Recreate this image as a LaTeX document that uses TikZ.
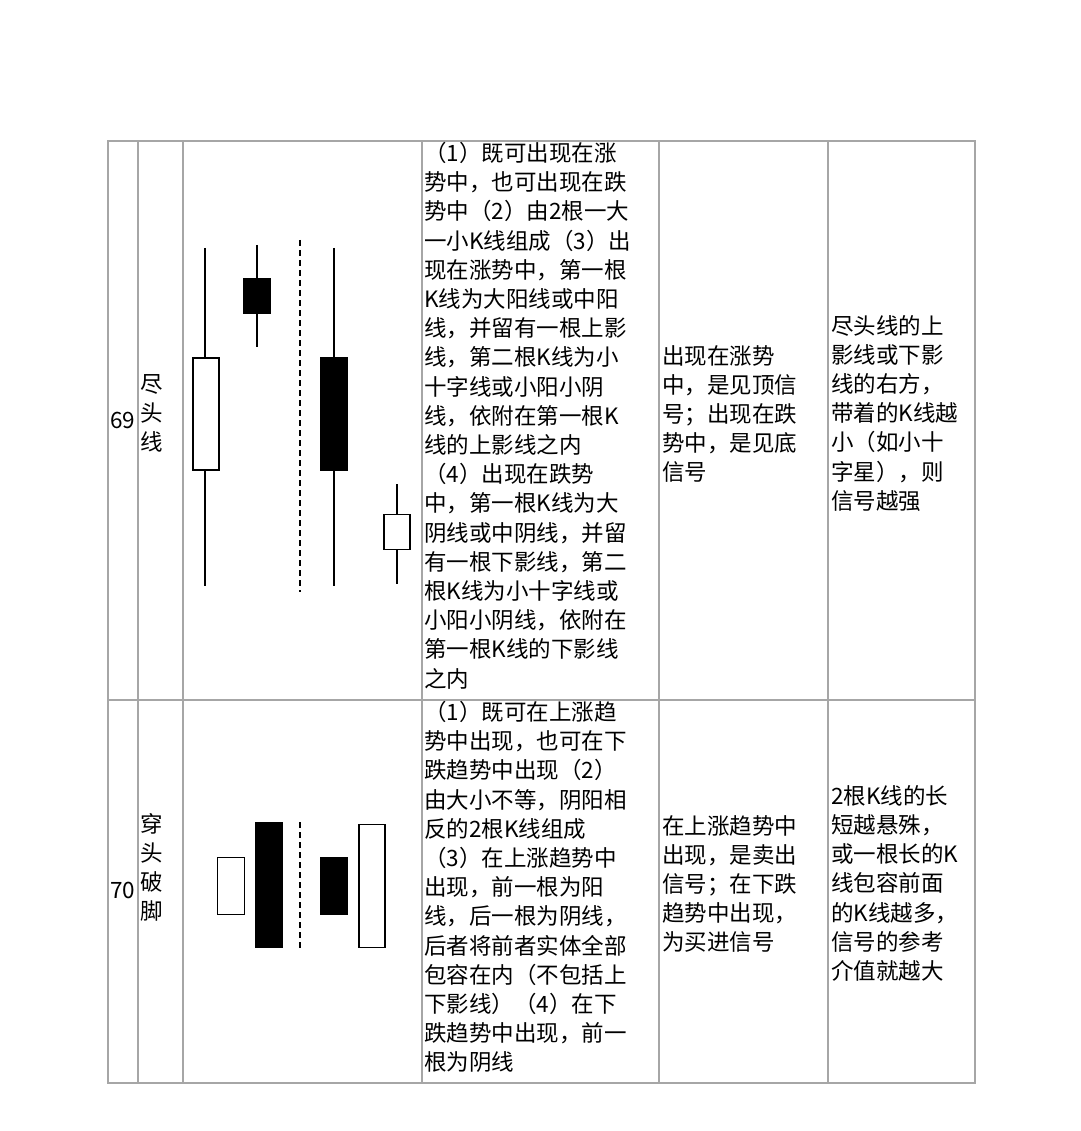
\documentclass[tikz,border=0pt]{standalone}
\usepackage{fontspec}
\setmainfont{Noto Sans CJK SC}
\begin{document}
\begin{tikzpicture}[x=1pt,y=-1pt,
  grid/.style={draw=gray!70,line width=1.6pt},
  cell/.style={anchor=north west,align=left,inner sep=0pt,font=\fontsize{22.5}{29.2}\selectfont},
  wick/.style={line width=1.6pt},
  wbody/.style={draw,line width=1.6pt,fill=white},
  bbody/.style={draw,line width=1.6pt,fill=black},
  dashln/.style={line width=1.2pt,dash pattern=on 6pt off 4pt}]
\useasboundingbox (0,0) rectangle (1080,1131);
% table
\draw[grid] (108,141) rectangle (975,1083);
\draw[grid] (108,700) -- (975,700);
\foreach \x in {138,183,422,659,828} \draw[grid] (\x,141) -- (\x,1083);
% row 69
\node[cell,anchor=west] (n69) at (110,420) {69};
\node[cell,anchor=north] (t69) at (152,374) {尽\\头\\线};
\node[cell] (d69) at (424,142) {（1）既可出现在涨\\势中，也可出现在跌\\势中（2）由2根一大\\一小K线组成（3）出\\现在涨势中，第一根\\K线为大阳线或中阳\\线，并留有一根上影\\线，第二根K线为小\\十字线或小阳小阴\\线，依附在第一根K\\线的上影线之内\\（4）出现在跌势\\中，第一根K线为大\\阴线或中阴线，并留\\有一根下影线，第二\\根K线为小十字线或\\小阳小阴线，依附在\\第一根K线的下影线\\之内};
\node[cell] (m69) at (662,345) {出现在涨势\\中，是见顶信\\号；出现在跌\\势中，是见底\\信号};
\node[cell] (s69) at (831,315) {尽头线的上\\影线或下影\\线的右方，\\带着的K线越\\小（如小十\\字星），则\\信号越强};
% candles 69
\draw[wick] (205,248) -- (205,586);
\node[wbody,minimum width=26pt,minimum height=112pt,inner sep=0pt] (c1) at (206,414) {};
\draw[wick] (257,245) -- (257,347);
\node[bbody,minimum width=26pt,minimum height=34pt,inner sep=0pt] (c2) at (257,296) {};
\draw[dashln] (300,240) -- (300,592);
\draw[wick] (334,248) -- (334,586);
\node[bbody,minimum width=27pt,minimum height=113pt,inner sep=0pt] (c3) at (334,414) {};
\draw[wick] (397,484) -- (397,584);
\node[wbody,minimum width=26pt,minimum height=35pt,inner sep=0pt] (c4) at (397,532) {};
% row 70
\node[cell,anchor=west] (n70) at (110,890) {70};
\node[cell,anchor=north] (t70) at (152,813) {穿\\头\\破\\脚};
\node[cell] (d70) at (424,701) {（1）既可在上涨趋\\势中出现，也可在下\\跌趋势中出现（2）\\由大小不等，阴阳相\\反的2根K线组成\\（3）在上涨趋势中\\出现，前一根为阳\\线，后一根为阴线，\\后者将前者实体全部\\包容在内（不包括上\\下影线）（4）在下\\跌趋势中出现，前一\\根为阴线};
\node[cell] (m70) at (662,815) {在上涨趋势中\\出现，是卖出\\信号；在下跌\\趋势中出现，\\为买进信号};
\node[cell] (s70) at (831,785) {2根K线的长\\短越悬殊，\\或一根长的K\\线包容前面\\的K线越多，\\信号的参考\\介值就越大};
% candles 70
\node[wbody,minimum width=27pt,minimum height=57pt,inner sep=0pt] (e1) at (231,886) {};
\node[bbody,minimum width=27pt,minimum height=124pt,inner sep=0pt] (e2) at (269,885) {};
\draw[dashln] (300,822) -- (300,948);
\node[bbody,minimum width=27pt,minimum height=57pt,inner sep=0pt] (e3) at (334,886) {};
\node[wbody,minimum width=26pt,minimum height=123pt,inner sep=0pt] (e4) at (372,886) {};
\end{tikzpicture}
\end{document}
